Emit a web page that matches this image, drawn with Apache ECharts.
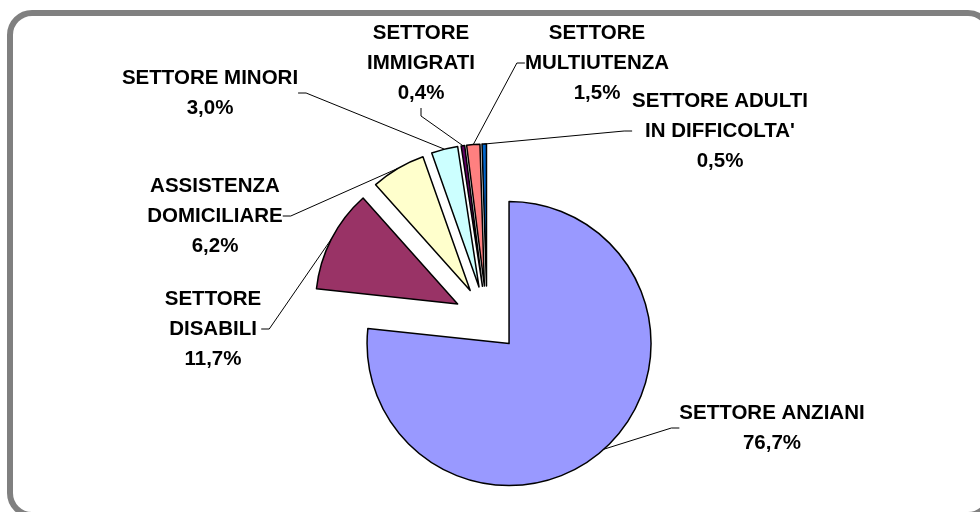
<!DOCTYPE html>
<html>
<head>
<meta charset="utf-8">
<script src="https://cdn.jsdelivr.net/npm/echarts@6/dist/echarts.min.js"></script>
<style>html,body{margin:0;padding:0;background:#fff}#c{width:980px;height:512px}</style>
</head>
<body>
<div id="c"></div>
<script>
// Data
const categories = [
  'SETTORE ANZIANI',
  'SETTORE\nDISABILI',
  'ASSISTENZA\nDOMICILIARE',
  'SETTORE MINORI',
  'SETTORE\nIMMIGRATI',
  'SETTORE\nMULTIUTENZA',
  "SETTORE ADULTI\nIN DIFFICOLTA'"
];
const values = [76.7, 11.7, 6.2, 3.0, 0.4, 1.5, 0.5];
const colors = ['#9999FF', '#993366', '#FFFFCC', '#CCFFFF', '#660066', '#FF8080', '#0066CC'];
// label block centres (layout only)
const labelPos = [[772, 428], [213, 329], [215, 216], [210, 93], [421, 63], [597, 63], [720, 131]];

const CX = 487, CY = 319, R = 142, EXPLODE = 33;
const total = values.reduce((a, b) => a + b, 0);
const fmt = v => v.toFixed(1).replace('.', ',') + '%';

// one pie per exploded slice: the whole pie is laid out by ECharts,
// only slice i is painted, and the pie centre is pushed out along its bisector
let cum = 0;
const series = values.map((v, i) => {
  const mid = (cum + v / 2) / total * 2 * Math.PI;
  cum += v;
  const dx = Math.sin(mid) * EXPLODE, dy = -Math.cos(mid) * EXPLODE;
  return {
    type: 'pie',
    center: [CX + dx, CY + dy],
    radius: R,
    startAngle: 90,
    clockwise: true,
    avoidLabelOverlap: false,
    silent: true,
    z: 2,
    label: {show: false},
    labelLine: {show: false},
    labelLayout: p => p.dataIndex === i ? {
      x: labelPos[i][0], y: labelPos[i][1], align: 'center', verticalAlign: 'middle'
    } : {},
    emphasis: {disabled: true},
    data: categories.map((n, j) => j === i ? {
      name: n, value: values[j],
      itemStyle: {color: colors[j], borderColor: '#000', borderWidth: 1.5},
      label: {
        show: true, position: 'outside', color: '#000',
        fontFamily: 'Liberation Sans, Arial, sans-serif', fontWeight: 'bold',
        fontSize: 20.5, lineHeight: 30, align: 'center',
        formatter: p => p.name + '\n' + fmt(p.value)
      },
      labelLine: {show: true, length: 10, length2: 8, lineStyle: {color: '#000', width: 1}}
    } : {
      name: n, value: values[j],
      itemStyle: {color: 'rgba(0,0,0,0)', borderWidth: 0}
    })
  };
});

const chart = echarts.init(document.getElementById('c'), null, {renderer: 'canvas'});
chart.setOption({
  animation: false,
  backgroundColor: '#ffffff',
  graphic: [{
    type: 'rect',
    shape: {x: 10, y: 13, width: 980, height: 502, r: 22},
    style: {fill: 'none', stroke: '#808080', lineWidth: 6},
    z: 0
  }],
  series: series
});
</script>
</body>
</html>
